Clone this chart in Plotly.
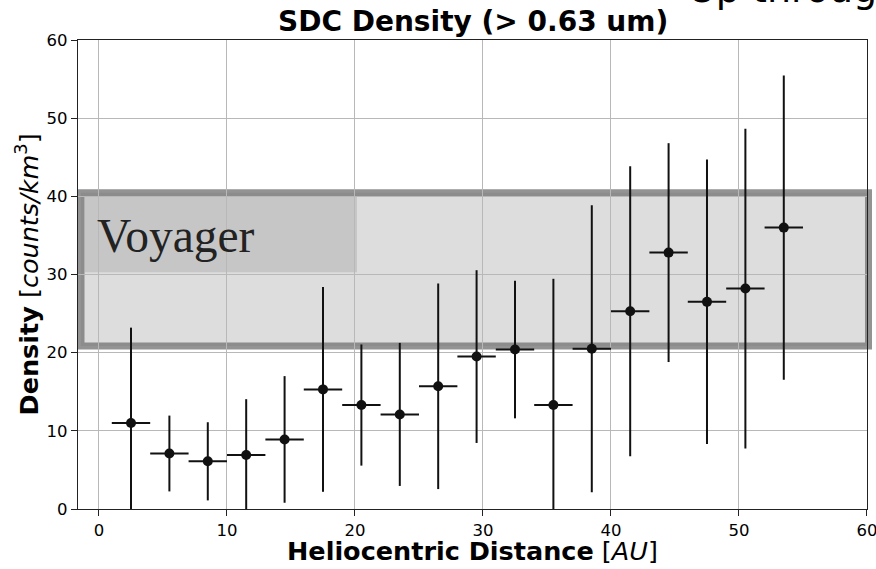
import plotly.graph_objects as go

# Data
distance_au = [2.5, 5.5, 8.5, 11.5, 14.5, 17.5, 20.5, 23.5, 26.5, 29.5,
               32.5, 35.5, 38.5, 41.5, 44.5, 47.5, 50.5, 53.5]
density = [11.0, 7.1, 6.1, 6.9, 8.9, 15.3, 13.3, 12.1, 15.7, 19.5,
           20.4, 13.3, 20.5, 25.3, 32.8, 26.5, 28.2, 36.0]
density_err = [12.2, 4.85, 5.0, 7.15, 8.1, 13.1, 7.75, 9.15, 13.15, 11.05,
               8.8, 16.15, 18.35, 18.55, 14.0, 18.2, 20.45, 19.45]
bin_half_width = [1.5] * len(distance_au)

x_ticks = [0, 10, 20, 30, 40, 50, 60]
y_ticks = [0, 10, 20, 30, 40, 50, 60]

voyager_low = 20.85
voyager_high = 40.45

fig = go.Figure()
fig.add_trace(go.Scatter(
    x=distance_au, y=density, mode="markers",
    marker=dict(color="#111111", size=10, symbol="circle"),
    error_y=dict(type="data", array=density_err, visible=True,
                 color="#111111", thickness=2, width=0),
    error_x=dict(type="data", array=bin_half_width, visible=True,
                 color="#111111", thickness=2, width=0),
    showlegend=False, cliponaxis=True,
))

# Voyager band
fig.add_shape(type="rect", xref="paper", yref="y",
              x0=0.0038, x1=1.0019, y0=voyager_low, y1=voyager_high,
              fillcolor="rgba(200,200,200,0.62)",
              line=dict(color="rgba(120,120,120,0.8)", width=7),
              layer="below")
fig.add_shape(type="rect", xref="paper", yref="y",
              x0=0.0076, x1=0.3536, y0=30.3, y1=voyager_high - 0.42,
              fillcolor="rgba(170,170,170,0.45)",
              line=dict(width=0), layer="below")
fig.add_annotation(xref="paper", yref="y", x=0.021, y=34.9,
                   xanchor="left", yanchor="middle", showarrow=False,
                   text="Voyager",
                   font=dict(family="Liberation Serif", size=47.5, color="#222222"))

# Title
fig.add_annotation(xref="paper", yref="paper", x=0.5, y=1.0,
                   xanchor="center", yanchor="bottom", yshift=0,
                   showarrow=False,
                   text="<b>SDC Density (&gt; 0.63 um)</b>",
                   font=dict(family="DejaVu Sans", size=28, color="#000000"))
# Cut-off super title
fig.add_annotation(xref="paper", yref="paper", x=0.77, y=1.108,
                   xanchor="left", yanchor="middle", showarrow=False,
                   text="Up through",
                   font=dict(family="DejaVu Sans", size=38, color="#000000"))

# Axis titles
fig.add_annotation(xref="paper", yref="paper", x=0.5, y=0,
                   xanchor="center", yanchor="top", yshift=-25,
                   showarrow=False,
                   text="<b>Heliocentric Distance</b> [<i>AU</i>]",
                   font=dict(family="DejaVu Sans", size=25.5, color="#000000"))
fig.add_annotation(xref="paper", yref="paper", x=0, y=0.5,
                   xanchor="center", yanchor="middle", xshift=-51,
                   textangle=-90, showarrow=False,
                   text="<b>Density</b> [<i>counts/km</i><sup>3</sup>]",
                   font=dict(family="DejaVu Sans", size=25.5, color="#000000"))

axis_common = dict(
    showgrid=True, gridcolor="#b8b8b8", gridwidth=1,
    showline=True, linecolor="#222222", linewidth=1.3, mirror=True,
    ticks="outside", ticklen=6, tickwidth=1.2, tickcolor="#222222",
    tickfont=dict(family="DejaVu Sans", size=16.5, color="#000000"),
    zeroline=False, automargin=False, ticklabeloverflow="allow",
)
fig.update_xaxes(range=[-1.64, 60.0005], tickvals=x_ticks, **axis_common)
fig.update_yaxes(range=[0, 60.0005], tickvals=y_ticks, **axis_common)

fig.update_layout(
    width=876, height=569,
    margin=dict(l=78, r=9, t=40, b=60, autoexpand=False),
    paper_bgcolor="white", plot_bgcolor="rgba(0,0,0,0)",
    showlegend=False,
)

fig.write_html(
    "out.html",
    config={"displayModeBar": False},
    post_script="document.body.style.margin='0px';document.body.style.overflow='hidden';",
)
